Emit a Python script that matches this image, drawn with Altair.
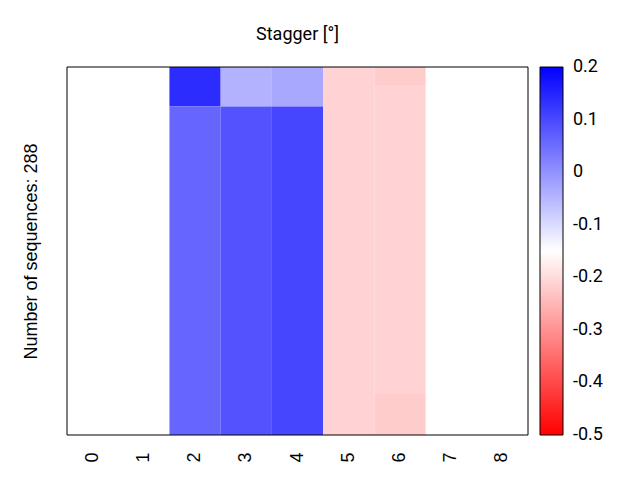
import altair as alt
import pandas as pd

# Data
columns = ["0", "1", "2", "3", "4", "5", "6", "7", "8"]
n_seq = 288
seg_col = ["2", "2", "3", "3", "4", "4", "5", "6", "6", "6"]
seg_start = [0, 31, 0, 31, 0, 31, 0, 0, 14, 256]
seg_end = [31, 288, 31, 288, 31, 288, 288, 14, 256, 288]
seg_val = [0.14, 0.06, -0.044, 0.087, -0.031, 0.104, -0.21, -0.22, -0.21, -0.22]
legend_ticks = [0.2, 0.1, 0, -0.1, -0.2, -0.3, -0.4, -0.5]
color_domain = [-0.5001, -0.15, 0.2001]
color_range = ["#ff0000", "#ffffff", "#0000ff"]

df = pd.DataFrame({"col": seg_col, "start": seg_start, "end": seg_end, "value": seg_val})

label_expr = "(datum.value >= 0 ? '\u00a0' : '') + toString(round(datum.value*10)/10)"

color_scale = alt.Scale(domain=color_domain, range=color_range, interpolate="rgb")

heat = alt.Chart(df).mark_rect().encode(
    x=alt.X("col:N",
            scale=alt.Scale(domain=columns, paddingInner=0, paddingOuter=0),
            axis=alt.Axis(title=None, labelAngle=270, ticks=False, tickSize=0, domain=False,
                          labelFontSize=18, labelFont="Liberation Sans", labelPadding=17,
                          labelAlign="right", labelBaseline="middle", labelColor="black",
                          grid=False)),
    y=alt.Y("start:Q",
            scale=alt.Scale(domain=[0, n_seq], reverse=True, nice=False, zero=False),
            axis=alt.Axis(title=f"Number of sequences: {n_seq}", labels=False, ticks=False,
                          tickSize=0, domain=False, grid=False, titleFontSize=18,
                          titleFont="Liberation Sans", titleFontWeight="normal",
                          titlePadding=27, titleColor="black")),
    y2="end:Q",
    color=alt.Color("value:Q", scale=color_scale,
                    legend=alt.Legend(title=None, orient="right", offset=12, padding=0,
                                      type="gradient",
                                      direction="vertical", gradientLength=368,
                                      gradientThickness=23, values=legend_ticks,
                                      labelFontSize=18, labelFont="Roboto", labelOffset=10,
                                      labelColor="black",
                                      labelOverlap=False, labelExpr=label_expr,
                                      gradientStrokeColor="black", gradientStrokeWidth=1)),
)

frame = alt.Chart(alt.Data(values=[{}])).mark_rect(
    fillOpacity=0, stroke="black", strokeWidth=1
).encode(
    x=alt.value(0), x2=alt.value("width"), y=alt.value(0), y2=alt.value("height")
)

chart = alt.layer(heat, frame).properties(
    title=alt.TitleParams("Stagger [°]", fontSize=18, font="Roboto", fontWeight="normal",
                          anchor="middle", offset=23, color="black"),
    width=461,
    height=368,
    autosize=alt.AutoSizeParams(type="none"),
    padding={"left": 67, "top": 67, "right": 112, "bottom": 45},
    background="white",
).configure_view(
    stroke=None
)

chart.save("out.html", embed_options={"renderer": "svg", "actions": False})
